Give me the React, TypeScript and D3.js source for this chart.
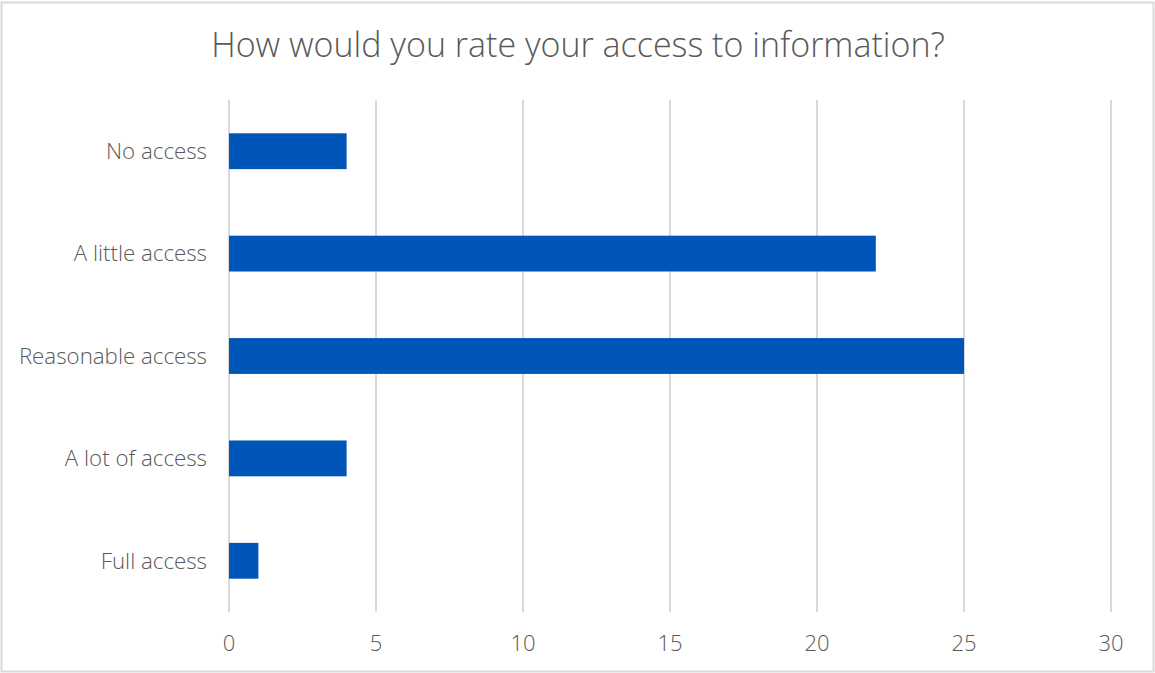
import React from "react";
import * as d3 from "d3";

const categories = ["No access", "A little access", "Reasonable access", "A lot of access", "Full access"];
const values = [4, 22, 25, 4, 1];
const xTicks = [0, 5, 10, 15, 20, 25, 30];
const title = "How would you rate your access to information?";

export default function App() {
  const W = 1155, H = 673;
  const left = 229, right = 1111, top = 100, bottom = 612;
  const x = d3.scaleLinear().domain([0, 30]).range([left, right]);
  const y = d3.scaleBand<string>().domain(categories).range([top, bottom]).paddingInner(0.65).paddingOuter(0.325);
  const font = "'Open Sans', 'Lato', sans-serif";
  return (
    <svg width={W} height={H} style={{ position: "absolute", left: 0, top: 0, background: "#fff" }}>
      <rect x={1.5} y={2.5} width={W - 3} height={H - 4} fill="#fff" stroke="#d9d9d9" strokeWidth={2} />
      <text x={578} y={57} textAnchor="middle" fontFamily={font} fontWeight={300} fontSize={34} fill="#595959">{title}</text>
      {xTicks.map(t => (
        <line key={"g" + t} x1={x(t)} x2={x(t)} y1={top} y2={bottom} stroke="#d9d9d9" strokeWidth={2} />
      ))}
      {xTicks.map(t => (
        <text key={"t" + t} x={x(t)} y={651} textAnchor="middle" fontFamily={font} fontWeight={300} fontSize={22} fill="#595959">{t}</text>
      ))}
      {categories.map((c, i) => (
        <rect key={c} x={x(0)} y={y(c)!} width={x(values[i]) - x(0)} height={y.bandwidth()} fill="#0055b8" />
      ))}
      {categories.map(c => (
        <text key={"l" + c} x={207} y={y(c)! + y.bandwidth() / 2} dy="0.35em" textAnchor="end" fontFamily={font} fontWeight={300} fontSize={22.3} fill="#595959">{c}</text>
      ))}
    </svg>
  );
}
